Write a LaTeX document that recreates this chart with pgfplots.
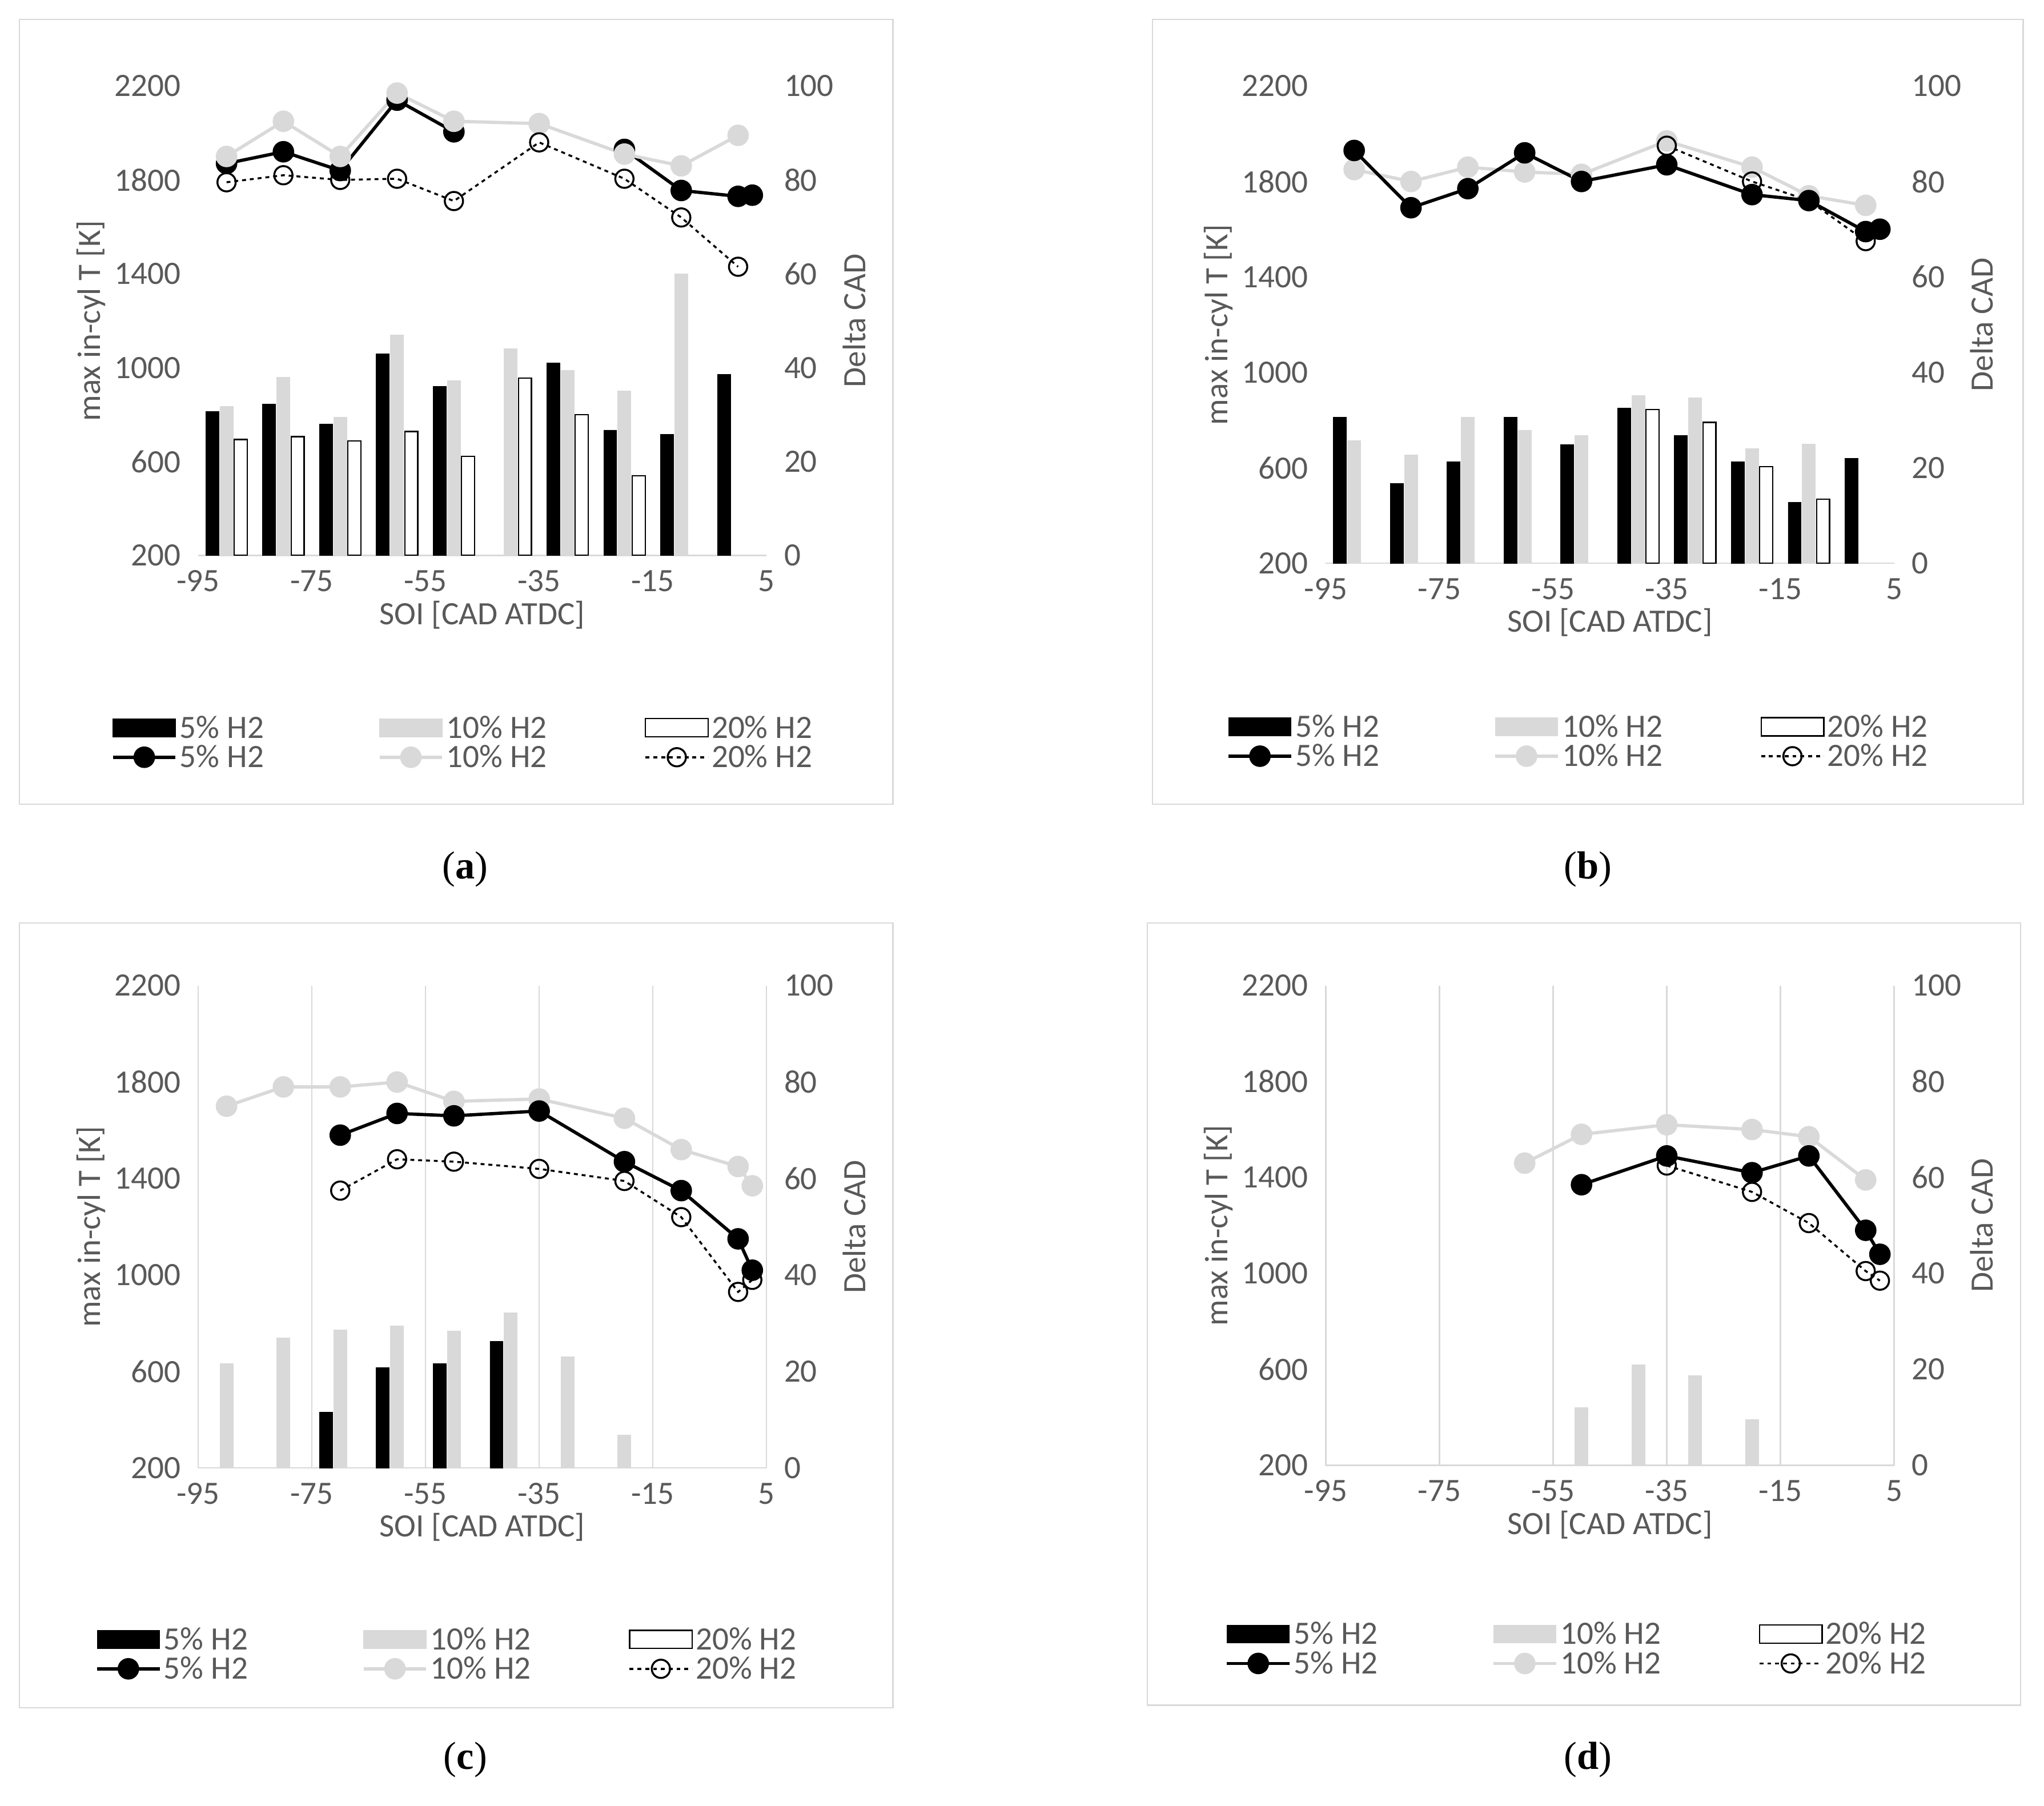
\documentclass[border=0pt]{standalone}
\usepackage{pgfplots}
\pgfplotsset{compat=1.18}
\usepackage{fontspec}
\setmainfont{Carlito}
\newfontfamily\capfont{Liberation Serif}
\definecolor{lg}{HTML}{D9D9D9}
\definecolor{txt}{HTML}{595959}
\pgfplotsset{
 common/.style={scale only axis, width=436pt, anchor=south west,
  xmin=-95, xmax=5, xtick={-95,-75,...,5},
  tick style={draw=none},
  /pgf/number format/assume math mode=true,
  /pgf/number format/1000 sep={},
  ticklabel style={font=\fontsize{25}{30}\selectfont, color=txt},
  label style={font=\fontsize{25}{30}\selectfont, color=txt}},
 baraxis/.style={common, ymin=0, ymax=100, ytick={0,20,...,100},
  axis y line*=right, axis x line*=bottom,
  y axis line style={draw=none}, x axis line style={draw=lg, line width=1pt, -},
  xlabel={SOI [CAD ATDC]}, ylabel={Delta CAD},
  xticklabel style={yshift=-8pt}, yticklabel style={xshift=10pt},
  grid style={draw=lg, line width=1pt}},
 lineaxis/.style={common, ymin=200, ymax=2200, ytick={200,600,...,2200},
  axis y line*=left, axis x line=none, y axis line style={draw=none},
  ylabel={max in-cyl T [K]}, yticklabel style={xshift=-10pt},
  unbounded coords=jump,
  legend columns=3,
  legend style={draw=none, fill=none, anchor=north west,
   font=\fontsize{25}{30}\selectfont, text=txt, cells={anchor=west},
   /tikz/every even row/.append style={row sep=8pt}},
  legend image code/.code={\draw[mark repeat=2,mark phase=2,#1] plot coordinates {(0pt,0pt) (24pt,0pt) (48pt,0pt)};}},
 bk/.style={ybar, bar width=2.3, bar shift=0pt, fill=black, draw=black},
 gy/.style={ybar, bar width=2.3, bar shift=0pt, fill=lg, draw=lg},
 wh/.style={ybar, bar width=2.3, bar shift=0pt, fill=white, draw=black, line width=1pt},
 l5/.style={black, line width=2.5pt, mark=*, mark size=7pt, mark options={fill=black, solid}},
 l10/.style={lg, line width=2.5pt, mark=*, mark size=7pt, mark options={fill=lg, solid}},
 l20/.style={black, line width=1.5pt, dashed, mark=o, mark size=7pt, mark options={fill=white, solid, line width=1.5pt}},
}
\newcommand\legimgs{%
 \addlegendimage{legend image code/.code={\draw[fill=black,draw=black] (0pt,-7pt) rectangle (48pt,7pt);}}
 \addlegendentry{\makebox[150pt][l]{5\% H2}}
 \addlegendimage{legend image code/.code={\draw[fill=lg,draw=lg] (0pt,-7pt) rectangle (48pt,7pt);}}
 \addlegendentry{\makebox[150pt][l]{10\% H2}}
 \addlegendimage{legend image code/.code={\draw[fill=white,draw=black,line width=1pt] (0pt,-7pt) rectangle (48pt,7pt);}}
 \addlegendentry{\makebox[100pt][l]{20\% H2}}}
\begin{document}
\begin{tikzpicture}
\path (0pt,0pt) rectangle (1568pt,-1385pt);
\draw[lg, line width=1pt] (15pt,-15pt) rectangle (685pt,-617pt);
\draw[lg, line width=1pt] (884pt,-15pt) rectangle (1552pt,-617pt);
\draw[lg, line width=1pt] (15pt,-708pt) rectangle (685pt,-1310pt);
\draw[lg, line width=1pt] (880pt,-708pt) rectangle (1550pt,-1308pt);
\node[font=\capfont\fontsize{30}{34}\selectfont] at (357pt,-667pt) {(\textbf{a})};
\node[font=\capfont\fontsize{30}{34}\selectfont] at (1218pt,-667pt) {(\textbf{b})};
\node[font=\capfont\fontsize{30}{34}\selectfont] at (357pt,-1350pt) {(\textbf{c})};
\node[font=\capfont\fontsize{30}{34}\selectfont] at (1218pt,-1350pt) {(\textbf{d})};
% ---------- (a)
\begin{axis}[baraxis, height=360pt, at={(152pt,-426pt)}]
\addplot[bk] coordinates {(-92.5,30.6) (-82.5,32.2) (-72.5,28) (-62.5,43) (-52.5,36) (-32.5,41) (-22.5,26.7) (-12.5,25.8) (-2.5,38.6)};
\addplot[gy] coordinates {(-90,31.7) (-80,38) (-70,29.4) (-60,47) (-50,37.2) (-40,44) (-30,39.4) (-20,35) (-10,60)};
\addplot[wh] coordinates {(-87.5,24.7) (-77.5,25.3) (-67.5,24.4) (-57.5,26.4) (-47.5,21.1) (-37.5,37.8) (-27.5,30) (-17.5,17)};
\end{axis}
\begin{axis}[lineaxis, height=360pt, at={(152pt,-426pt)}, legend style={at={(-0.16,-0.33)}}]
\legimgs
\addplot[l5] coordinates {(-90,1870) (-80,1920) (-70,1840) (-60,2140) (-50,2005) (-35,nan) (-20,1930) (-10,1755) (0,1730) (2.5,1735)};
\addlegendentry{\makebox[150pt][l]{5\% H2}}
\addplot[l10] coordinates {(-90,1900) (-80,2050) (-70,1900) (-60,2170) (-50,2050) (-35,2040) (-20,1910) (-10,1860) (0,1990)};
\addlegendentry{\makebox[150pt][l]{10\% H2}}
\addplot[l20] coordinates {(-90,1790) (-80,1820) (-70,1800) (-60,1805) (-50,1710) (-35,1960) (-20,1805) (-10,1640) (0,1430)};
\addlegendentry{\makebox[100pt][l]{20\% H2}}
\end{axis}
% ---------- (b)
\begin{axis}[baraxis, height=366pt, at={(1017pt,-432pt)}]
\addplot[bk] coordinates {(-92.5,30.6) (-82.5,16.7) (-72.5,21.3) (-62.5,30.6) (-52.5,24.9) (-42.5,32.5) (-32.5,26.8) (-22.5,21.3) (-12.5,12.8) (-2.5,22)};
\addplot[gy] coordinates {(-90,25.7) (-80,22.7) (-70,30.6) (-60,27.9) (-50,26.8) (-40,35.2) (-30,34.7) (-20,24) (-10,25)};
\addplot[wh] coordinates {(-37.5,32.2) (-27.5,29.5) (-17.5,20.2) (-7.5,13.4)};
\end{axis}
\begin{axis}[lineaxis, height=366pt, at={(1017pt,-432pt)}, legend style={at={(-0.181,-0.306)}}]
\legimgs
\addplot[l10, forget plot] coordinates {(-90,1850) (-80,1800) (-70,1860) (-60,1840) (-50,1830) (-35,1970) (-20,1860) (-10,1740) (0,1700)};
\addplot[l5] coordinates {(-90,1930) (-80,1690) (-70,1770) (-60,1920) (-50,1800) (-35,1870) (-20,1745) (-10,1720) (0,1590) (2.5,1600)};
\addlegendentry{\makebox[150pt][l]{5\% H2}}
\addlegendimage{l10}
\addlegendentry{\makebox[150pt][l]{10\% H2}}
\addplot[l20] coordinates {(-35,1950) (-20,1800) (-10,1720) (0,1550)};
\addlegendentry{\makebox[100pt][l]{20\% H2}}
\end{axis}
% ---------- (c)
\begin{axis}[baraxis, height=370pt, at={(152pt,-1126pt)}, xmajorgrids]
\addplot[bk] coordinates {(-72.5,11.6) (-62.5,20.8) (-52.5,21.6) (-42.5,26.2)};
\addplot[gy] coordinates {(-90,21.6) (-80,27) (-70,28.6) (-60,29.5) (-50,28.4) (-40,32.2) (-30,23) (-20,6.8)};
\end{axis}
\begin{axis}[lineaxis, height=370pt, at={(152pt,-1126pt)}, legend style={at={(-0.188,-0.319)}}]
\legimgs
\addplot[l10, forget plot] coordinates {(-90,1700) (-80,1780) (-70,1780) (-60,1800) (-50,1720) (-35,1730) (-20,1650) (-10,1520) (0,1450) (2.5,1370)};
\addplot[l5] coordinates {(-70,1580) (-60,1670) (-50,1660) (-35,1680) (-20,1470) (-10,1350) (0,1150) (2.5,1020)};
\addlegendentry{\makebox[150pt][l]{5\% H2}}
\addlegendimage{l10}
\addlegendentry{\makebox[150pt][l]{10\% H2}}
\addplot[l20] coordinates {(-70,1350) (-60,1480) (-50,1470) (-35,1440) (-20,1390) (-10,1240) (0,930) (2.5,980)};
\addlegendentry{\makebox[100pt][l]{20\% H2}}
\end{axis}
% ---------- (d)
\begin{axis}[baraxis, height=368pt, at={(1017pt,-1124pt)}, xmajorgrids]
\addplot[gy] coordinates {(-50,12) (-40,21) (-30,18.7) (-20,9.6)};
\end{axis}
\begin{axis}[lineaxis, height=368pt, at={(1017pt,-1124pt)}, legend style={at={(-0.184,-0.315)}}]
\legimgs
\addplot[l10, forget plot] coordinates {(-60,1460) (-50,1580) (-35,1620) (-20,1600) (-10,1570) (0,1390)};
\addplot[l5] coordinates {(-50,1370) (-35,1490) (-20,1420) (-10,1490) (0,1180) (2.5,1080)};
\addlegendentry{\makebox[150pt][l]{5\% H2}}
\addlegendimage{l10}
\addlegendentry{\makebox[150pt][l]{10\% H2}}
\addplot[l20] coordinates {(-35,1450) (-20,1340) (-10,1210) (0,1010) (2.5,970)};
\addlegendentry{\makebox[100pt][l]{20\% H2}}
\end{axis}
\end{tikzpicture}
\end{document}
